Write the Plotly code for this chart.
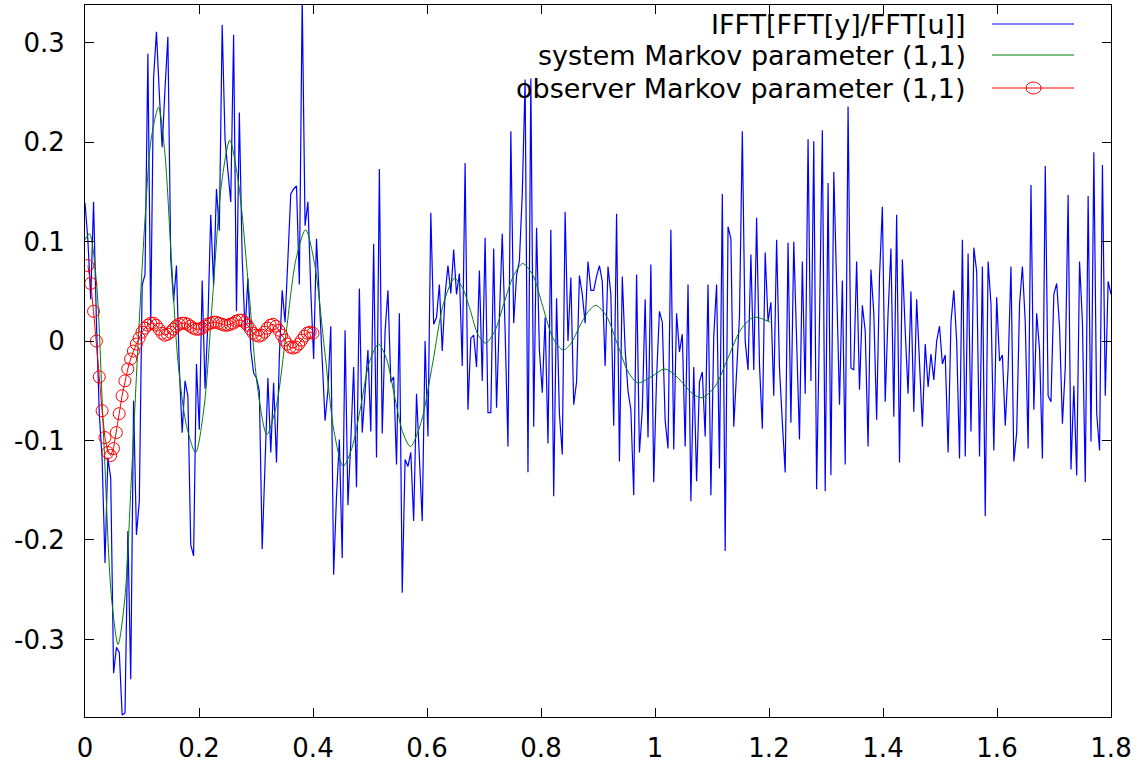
import numpy as np
import plotly.graph_objects as go

# ---------------- data ----------------
blue_y = [
    # 0.000 - 0.170
    0.139, 0.102, 0.042, 0.14, 0.019, -0.073, -0.119, -0.223, -0.117, -0.138, -0.334, -0.308, -0.313,
    -0.376, -0.374, -0.191, -0.34, -0.06, -0.195, -0.161, 0.056, 0.067, 0.289, 0.017, 0.265, 0.311,
    0.249, 0.195, 0.254, 0.306, 0.083, 0.04, 0.076, -0.027, -0.092,
    # 0.175 - 0.35
    -0.04, -0.055, -0.205, -0.216, -0.023, -0.089, 0.061, -0.048, 0.019, 0.127, 0.056, 0.153, 0.111,
    0.318, 0.203, 0.171, 0.14, 0.308, 0.03, 0.23, 0.083, 0.01, 0.063, -0.009, -0.032, -0.037, -0.05,
    -0.209, -0.115, -0.037, -0.112, -0.042, -0.122, -0.016, 0.051, 0.019,
    # 0.355 - 0.53
    0.083, 0.148, 0.153, 0.156, 0.057, 0.345, 0.116, 0.14, 0.051, -0.018, 0.103, 0.042, -0.018, -0.08,
    -0.05, 0.015, -0.235, -0.156, -0.099, -0.218, 0.011, -0.165, -0.101, -0.026, -0.147, 0.053, -0.092,
    -0.05, -0.009, -0.091, 0.098, -0.117, 0.173, -0.093, 0.01, 0.051,
    # 0.535 - 0.715
    -0.041, -0.036, -0.124, 0.028, -0.253, -0.119, -0.126, -0.112, -0.181, -0.053, -0.119, -0.181, 0.0,
    -0.096, 0.129, 0.017, 0.024, 0.057, -0.01, 0.047, 0.076, 0.048, 0.092, 0.047, 0.068, -0.025, 0.179,
    -0.069, 0.003, 0.006, -0.026, 0.071, -0.04, 0.104, -0.072, -0.072, 0.093,
    # 0.72 - 0.9
    -0.067, 0.024, 0.108, 0.01, -0.106, 0.211, 0.018, 0.066, 0.081, 0.148, 0.263, -0.132, 0.264, -0.086,
    0.114, -0.009, -0.052, 0.024, -0.103, 0.112, -0.156, 0.043, -0.073, -0.114, 0.13, 0.0, 0.064,
    -0.064, -0.041, 0.066, 0.047, 0.018, 0.08, 0.051, 0.051, 0.065, 0.076,
    # 0.905 - 1.085
    0.06, -0.025, 0.075, 0.047, -0.085, 0.128, -0.121, 0.065, -0.009, -0.05, -0.069, -0.155, 0.067,
    -0.112, -0.069, 0.042, -0.097, 0.077, -0.142, -0.036, 0.03, 0.019, -0.08, -0.108, 0.112, -0.109,
    0.028, -0.011, 0.007, -0.106, 0.057, -0.161, -0.026, -0.141, -0.041, -0.031, -0.096,
    # 1.09 - 1.265
    0.057, -0.155, 0.005, 0.057, -0.128, 0.148, -0.211, 0.115, 0.103, -0.086, -0.027, 0.024, 0.211, 0.0,
    -0.029, 0.087, -0.029, 0.124, -0.023, -0.088, 0.089, 0.02, 0.039, -0.055, 0.102, -0.027, -0.082,
    -0.132, 0.099, -0.082, 0.1, -0.009, -0.099, 0.08, -0.053, 0.203,
    # 1.27 - 1.445
    -0.04, 0.201, -0.149, 0.019, 0.212, -0.151, 0.159, -0.135, 0.17, 0.056, -0.064, 0.061, -0.124, 0.236,
    -0.027, -0.029, 0.08, -0.049, 0.036, 0.01, -0.106, 0.072, 0.028, -0.079, 0.065, 0.135, -0.061, 0.028,
    0.093, -0.076, 0.127, -0.122, 0.082, 0.01, -0.053, 0.05,
    # 1.45 - 1.63
    -0.071, 0.042, -0.018, -0.086, -0.003, -0.046, -0.013, -0.039, 0.0, 0.015, -0.023, -0.014, -0.112,
    0.019, 0.051, 0.0, -0.118, 0.102, -0.116, 0.088, -0.091, 0.094, 0.07, -0.116, 0.075, -0.176, 0.08,
    0.037, -0.11, 0.044, -0.02, -0.014, -0.085, -0.027, 0.075, -0.121,
    # 1.635 - 1.8
    -0.092, 0.037, 0.075, 0.019, -0.108, 0.157, -0.069, 0.028, -0.009, -0.118, 0.176, -0.055, -0.061,
    0.047, 0.058, 0.014, -0.083, -0.027, 0.147, -0.129, -0.045, -0.135, 0.08, 0.019, -0.142, 0.146,
    -0.101, 0.19, -0.073, -0.11, 0.177, -0.055, 0.06, 0.047,
]
blue_t = np.linspace(0.0, 1.8, len(blue_y))

green_t = [0.000, 0.008, 0.020, 0.033, 0.046, 0.058, 0.070, 0.081, 0.093, 0.105, 0.116, 0.129, 0.140,
           0.151, 0.163, 0.178, 0.194, 0.209, 0.224, 0.239, 0.254, 0.270, 0.287, 0.303, 0.319, 0.336,
           0.353, 0.370, 0.387, 0.403, 0.420, 0.437, 0.453, 0.468, 0.484, 0.499, 0.515, 0.529, 0.543,
           0.557, 0.571, 0.590, 0.610, 0.629, 0.648, 0.662, 0.676, 0.689, 0.703, 0.719, 0.735, 0.752,
           0.768, 0.786, 0.803, 0.821, 0.839, 0.853, 0.867, 0.882, 0.896, 0.915, 0.934, 0.953, 0.970,
           0.993, 1.017, 1.033, 1.050, 1.066, 1.083, 1.106, 1.128, 1.151, 1.173, 1.190, 1.202]
green_y = [0.102, 0.108, 0.060, -0.100, -0.255, -0.305, -0.258, -0.142, -0.004, 0.120, 0.203, 0.235, 0.190,
           0.088, -0.020, -0.085, -0.112, -0.066, 0.045, 0.156, 0.202, 0.156, 0.054, -0.048, -0.094, -0.064,
           0.009, 0.082, 0.112, 0.077, -0.007, -0.091, -0.126, -0.108, -0.065, -0.021, -0.003, -0.018, -0.055,
           -0.091, -0.106, -0.081, -0.022, 0.038, 0.063, 0.054, 0.031, 0.007, -0.002, 0.010, 0.038, 0.066,
           0.078, 0.066, 0.035, 0.003, -0.009, -0.002, 0.014, 0.029, 0.036, 0.025, -0.003, -0.031, -0.042,
           -0.036, -0.028, -0.033, -0.043, -0.053, -0.057, -0.045, -0.017, 0.012, 0.024, 0.022, 0.019]

red_y = [0.076, 0.058, 0.030, 0.000, -0.036, -0.070, -0.097, -0.112, -0.115, -0.108,
         -0.092, -0.073, -0.055, -0.040, -0.028, -0.018, -0.010, -0.003, 0.003, 0.009,
         0.013, 0.016, 0.018, 0.018, 0.016, 0.012, 0.008, 0.006, 0.007, 0.009,
         0.012, 0.015, 0.017, 0.018, 0.018, 0.017, 0.015, 0.013, 0.012, 0.012,
         0.013, 0.015, 0.017, 0.018, 0.019, 0.019, 0.018, 0.017, 0.016, 0.016,
         0.017, 0.018, 0.020, 0.021, 0.021, 0.019, 0.016, 0.012, 0.008, 0.006,
         0.005, 0.006, 0.009, 0.013, 0.016, 0.017, 0.015, 0.011, 0.006, 0.001,
         -0.003, -0.006, -0.007, -0.006, -0.003, 0.001, 0.005, 0.008, 0.009, 0.008]
red_t = [0.005 * (k + 1) for k in range(len(red_y))]

x_ticks = [0, 0.2, 0.4, 0.6, 0.8, 1.0, 1.2, 1.4, 1.6, 1.8]
x_tick_text = ["0", "0.2", "0.4", "0.6", "0.8", "1", "1.2", "1.4", "1.6", "1.8"]
y_ticks = [-0.3, -0.2, -0.1, 0, 0.1, 0.2, 0.3]
y_tick_text = ["-0.3", "-0.2", "-0.1", "0", "0.1", "0.2", "0.3"]

labels = ["IFFT[FFT[y]/FFT[u]]", "system Markov parameter (1,1)", "observer Markov parameter (1,1)"]
colors = ["#0000ff", "#008000", "#ff0000"]

# ---------------- figure ----------------
W, H = 1138, 763
L, R, T, B = 85, 27, 5, 46
FONT = "DejaVu Sans"

fig = go.Figure()
fig.add_trace(go.Scatter(x=blue_t, y=blue_y, mode="lines", name=labels[0],
                         line=dict(color=colors[0], width=1.2)))
fig.add_trace(go.Scatter(x=green_t, y=green_y, mode="lines", name=labels[1],
                         line=dict(color=colors[1], width=1, shape="spline", smoothing=0.8)))
fig.add_trace(go.Scatter(x=red_t, y=red_y, mode="lines+markers", name=labels[2],
                         line=dict(color=colors[2], width=1),
                         marker=dict(symbol="circle-open", size=12, color=colors[2], line=dict(width=1))))

axis_common = dict(showgrid=False, zeroline=False, showline=True, linecolor="black", linewidth=1,
                   mirror="ticks", ticks="inside", ticklen=9, tickcolor="black", automargin=False,
                   tickfont=dict(family=FONT, size=26, color="black"))
fig.update_xaxes(range=[0, 1.8], tickvals=x_ticks, ticktext=x_tick_text, ticklabelstandoff=8, **axis_common)
fig.update_yaxes(range=[-0.378, 0.338], tickvals=y_ticks, ticktext=y_tick_text, ticklabelstandoff=14, **axis_common)

pw, ph = W - L - R, H - T - B


def px(xp):
    return (xp - L) / pw


def py(yp):
    return 1 - (yp - T) / ph


rows = [24, 55, 88]
for lab, col, yr in zip(labels, colors, rows):
    fig.add_annotation(x=px(968), y=py(yr), xref="paper", yref="paper", text=lab, showarrow=False,
                       xanchor="right", yanchor="middle", font=dict(family=FONT, size=27, color="black"))
    fig.add_shape(type="line", xref="paper", yref="paper", x0=px(992), x1=px(1074), y0=py(yr), y1=py(yr),
                  line=dict(color=col, width=1.2 if col == colors[0] else 1))
fig.add_shape(type="circle", xref="paper", yref="paper", x0=px(1026), x1=px(1041), y0=py(94), y1=py(82),
              line=dict(color=colors[2], width=1))

fig.update_layout(width=W, height=H, autosize=False, showlegend=False,
                  margin=dict(l=L, r=R, t=T, b=B, pad=0),
                  plot_bgcolor="white", paper_bgcolor="white")
fig.write_html("out.html")
